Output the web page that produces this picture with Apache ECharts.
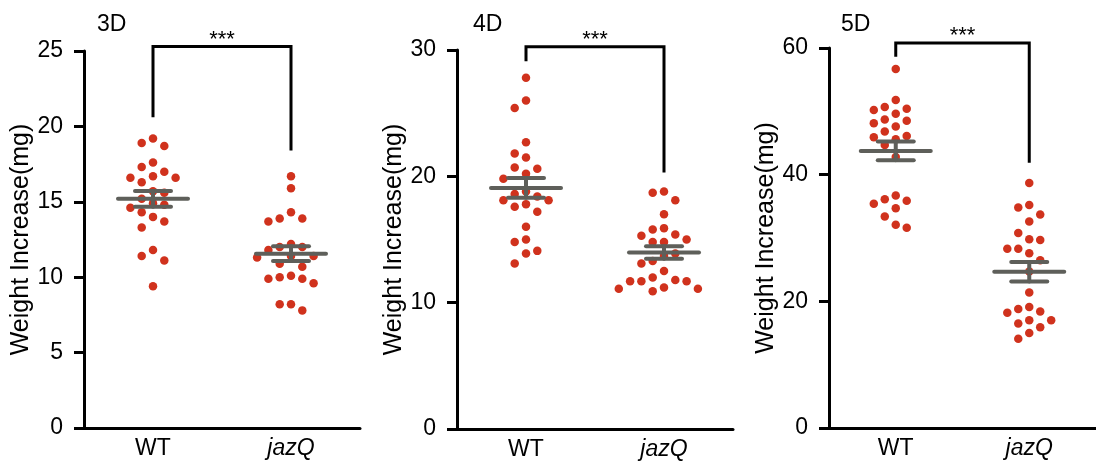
<!DOCTYPE html>
<html lang="en">
<head>
    <meta charset="UTF-8">
    <title>Weight Increase</title>
    <script src="https://cdn.jsdelivr.net/npm/echarts/dist/echarts.min.js"></script>
</head>
<body style="margin:0">
    <div id="main" style="width: 1096px; height: 466px;"></div>

    <script>
        // Panels and groups
        var days = ['3D', '4D', '5D'];
        var groups = ['WT', 'jazQ'];

        // Weight increase (mg) per animal
        var wt3D = [19.2, 18.9, 18.7, 17.6, 17.3, 17.0, 16.7, 16.6, 16.6, 16.3, 15.7, 15.6, 15.2, 14.9, 14.8, 14.6, 14.3, 14.0, 13.7, 13.3, 11.8, 11.4, 11.1, 9.4];
        var jaz3D = [16.7, 15.9, 14.3, 13.9, 13.9, 13.7, 12.2, 12.0, 12.0, 11.8, 11.4, 11.4, 11.3, 10.9, 10.7, 10.1, 10.0, 9.9, 9.9, 9.6, 8.2, 8.2, 7.8];
        var wt4D = [27.8, 26.0, 25.4, 22.7, 21.8, 21.5, 20.7, 20.6, 20.2, 19.8, 18.8, 18.6, 18.4, 18.1, 18.1, 17.8, 17.6, 17.2, 16.0, 15.0, 14.8, 14.1, 13.9, 13.1];
        var jaz4D = [18.8, 18.7, 18.1, 17.0, 15.9, 15.8, 15.4, 15.3, 15.0, 14.8, 14.8, 13.9, 13.7, 13.3, 13.1, 12.5, 12.0, 11.8, 11.7, 11.7, 11.7, 11.2, 11.1, 11.1, 10.9];
        var wt5D = [56.7, 51.8, 50.7, 50.4, 50.2, 49.6, 48.7, 48.5, 48.1, 47.6, 46.8, 46.1, 45.9, 45.6, 44.7, 42.8, 36.7, 36.1, 35.9, 35.4, 34.7, 33.4, 32.1, 31.6];
        var jaz5D = [38.7, 35.2, 34.8, 33.7, 32.6, 30.8, 29.8, 29.7, 28.3, 28.3, 27.6, 26.5, 24.7, 21.4, 19.1, 18.8, 18.4, 18.2, 17.0, 17.0, 16.5, 15.9, 15.0, 14.1];

        // Axis ranges
        var yMax = [25, 30, 60];
        var yStep = [5, 10, 20];

        // Significance bracket: top, left leg end, right leg end (mg)
        var bracketTop = [25.3, 30.25, 60.8];
        var bracketLeft = [20.6, 29.1, 58.6];
        var bracketRight = [18.4, 20.3, 41.9];
        var stars = ['***', '***', '***'];

        var panelData = [[wt3D, jaz3D], [wt4D, jaz4D], [wt5D, jaz5D]];

        // layout
        var grids = [
            { left: 84, top: 51, width: 276, height: 377 },
            { left: 457, top: 50, width: 276, height: 379 },
            { left: 829, top: 48, width: 275, height: 380 }
        ];
        var titleLeft = [92, 468, 836];
        var dotColor = '#d0321d';
        var barColor = '#5e5f5a';
        var font = 'Liberation Sans, Arial, sans-serif';

        function meanSem(arr) {
            var n = arr.length;
            var m = arr.reduce(function (a, b) { return a + b; }, 0) / n;
            var ss = arr.reduce(function (a, b) { return a + (b - m) * (b - m); }, 0);
            return [m, Math.sqrt(ss / (n - 1)) / Math.sqrt(n)];
        }

        // simple beeswarm: columns 11.3px apart, keep dots apart
        function swarm(values, pxPerUnit) {
            var order = values.map(function (v, i) { return i; })
                .sort(function (a, b) { return values[b] - values[a]; });
            var placed = [];
            var cols = [];
            var cand = [0, -1, 1, -2, 2, -3, 3, -4, 4];
            order.forEach(function (i) {
                var py = values[i] * pxPerUnit;
                for (var k = 0; k < cand.length; k++) {
                    var c = cand[k];
                    var ok = placed.every(function (p) {
                        return p.col !== c || Math.abs(p.py - py) >= 11.5;
                    });
                    if (ok) { placed.push({ col: c, py: py }); cols[i] = c; break; }
                }
            });
            return cols;
        }

        var chart = echarts.init(document.getElementById('main'));

        var option = {
            animation: false,
            textStyle: { fontFamily: font },
            title: [],
            grid: [],
            xAxis: [],
            yAxis: [],
            series: []
        };

        days.forEach(function (day, p) {
            var g = grids[p];
            option.grid.push(g);
            option.title.push({
                text: day, left: titleLeft[p], top: 8,
                textStyle: { fontSize: 23, fontWeight: 'normal', color: '#000', fontFamily: font }
            });
            // visible category axis
            option.xAxis.push({
                gridIndex: p, type: 'category', data: groups, boundaryGap: true,
                axisLine: { onZero: false, lineStyle: { color: '#000', width: 3 } },
                axisTick: { show: false },
                axisLabel: {
                    fontSize: 23, color: '#000', margin: 9,
                    formatter: function (v) { return v === 'jazQ' ? '{it|' + v + '}' : v; },
                    rich: { it: { fontSize: 23, fontStyle: 'italic', color: '#000' } }
                }
            });
            // hidden value axis for jittered points
            option.xAxis.push({
                gridIndex: p, type: 'value', min: -0.5, max: 1.5, show: false
            });
            option.yAxis.push({
                gridIndex: p, type: 'value', min: 0, max: yMax[p], interval: yStep[p],
                name: 'Weight Increase(mg)', nameLocation: 'middle', nameGap: 50,
                nameTextStyle: { fontSize: 25, color: '#000' },
                axisLine: { show: true, onZero: false, lineStyle: { color: '#000', width: 3 } },
                axisTick: { show: true, length: 10, lineStyle: { width: 3, color: '#000' } },
                axisLabel: { fontSize: 23, color: '#000', margin: 21 },
                splitLine: { show: false }
            });

            var colStep = 11.3 / (g.width / 2);
            var pxPerUnit = g.height / yMax[p];
            var stats = [];

            panelData[p].forEach(function (vals, gi) {
                var cols = swarm(vals, pxPerUnit);
                option.series.push({
                    type: 'scatter', xAxisIndex: 2 * p + 1, yAxisIndex: p,
                    symbolSize: 8.5, itemStyle: { color: dotColor, opacity: 1 },
                    data: vals.map(function (v, i) { return [gi + cols[i] * colStep, v]; }),
                    z: 2
                });
                var ms = meanSem(vals);
                stats.push([gi, ms[0], ms[1]]);
            });

            // mean ± SEM
            option.series.push({
                type: 'custom', xAxisIndex: 2 * p + 1, yAxisIndex: p, z: 4,
                data: stats,
                renderItem: function (params, api) {
                    var x = api.value(0), m = api.value(1), s = api.value(2);
                    var c = api.coord([x, m]);
                    var hi = api.coord([x, m + s]);
                    var lo = api.coord([x, m - s]);
                    var st = { stroke: barColor, lineWidth: 4, lineCap: 'round' };
                    return {
                        type: 'group', children: [
                            { type: 'line', shape: { x1: c[0] - 35, y1: c[1], x2: c[0] + 35, y2: c[1] }, style: st },
                            { type: 'line', shape: { x1: c[0] - 18, y1: hi[1], x2: c[0] + 18, y2: hi[1] }, style: st },
                            { type: 'line', shape: { x1: c[0] - 18, y1: lo[1], x2: c[0] + 18, y2: lo[1] }, style: st },
                            { type: 'line', shape: { x1: c[0], y1: hi[1], x2: c[0], y2: lo[1] }, style: st }
                        ]
                    };
                }
            });

            // significance bracket
            option.series.push({
                type: 'custom', xAxisIndex: 2 * p + 1, yAxisIndex: p, z: 3,
                data: [[0.5, bracketTop[p], bracketLeft[p], bracketRight[p]]],
                renderItem: function (params, api) {
                    var top = api.value(1);
                    var a = api.coord([0, api.value(2)]);
                    var b = api.coord([0, top]);
                    var c = api.coord([1, top]);
                    var d = api.coord([1, api.value(3)]);
                    var mid = api.coord([0.5, top]);
                    return {
                        type: 'group', children: [
                            { type: 'polyline', shape: { points: [a, b, c, d] },
                              style: { stroke: '#000', lineWidth: 3, fill: null } },
                            { type: 'text', x: mid[0], y: mid[1] - 7,
                              style: { text: stars[p], fontSize: 22, fontFamily: font, fill: '#000',
                                       align: 'center', verticalAlign: 'middle' } }
                        ]
                    };
                }
            });
        });

        chart.setOption(option);
    </script>
</body>
</html>
